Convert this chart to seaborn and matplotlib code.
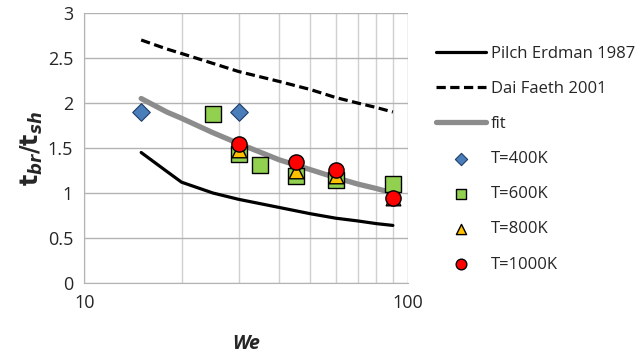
import matplotlib
matplotlib.use('Agg')
import matplotlib.pyplot as plt
import seaborn as sns
import pandas as pd
from matplotlib.ticker import FixedLocator, NullFormatter

# correlation curves
we_curve = [15, 18, 20, 25, 30, 40, 50, 60, 70, 80, 90]
pilch = [1.45, 1.24, 1.12, 1.0, 0.93, 0.84, 0.77, 0.72, 0.69, 0.66, 0.64]
dai = [2.70, 2.60, 2.55, 2.44, 2.35, 2.24, 2.15, 2.06, 2.00, 1.95, 1.90]
fit = [2.05, 1.90, 1.83, 1.67, 1.55, 1.37, 1.26, 1.17, 1.10, 1.05, 1.00]

# measurements
we_400 = [15, 30]
t_400 = [1.9, 1.9]
we_600 = [25, 30, 35, 45, 60, 90]
t_600 = [1.88, 1.43, 1.31, 1.19, 1.14, 1.10]
we_800 = [30, 45, 60, 90]
t_800 = [1.48, 1.25, 1.19, 0.95]
we_1000 = [30, 45, 60, 90]
t_1000 = [1.55, 1.34, 1.26, 0.95]

sns.set_style('white')
plt.rcParams['font.family'] = ['Open Sans', 'DejaVu Sans']

fig = plt.figure(figsize=(6.38, 3.61), dpi=100)
ax = fig.add_axes([0.132, 0.216, 0.507, 0.748])

sns.lineplot(x=we_curve, y=pilch, color='black', lw=2.3, label='Pilch Erdman 1987', ax=ax)
sns.lineplot(x=we_curve, y=dai, color='black', lw=2.3, label='Dai Faeth 2001', ax=ax)
ax.lines[-1].set_dashes([2.9, 1.4])
sns.lineplot(x=we_curve, y=fit, color='#8c8c8c', lw=3.8, label='fit', ax=ax)

sns.scatterplot(x=we_400, y=t_400, marker='D', s=80, color='#4a7ebb', edgecolor='#1f3d66',
                linewidth=0.8, label='T=400K', ax=ax, zorder=3)
sns.scatterplot(x=we_600, y=t_600, marker='s', s=120, color='#92d050', edgecolor='black',
                linewidth=1, label='T=600K', ax=ax, zorder=4)
sns.scatterplot(x=we_800, y=t_800, marker='^', s=110, color='#ffc000', edgecolor='black',
                linewidth=1, label='T=800K', ax=ax, zorder=5)
sns.scatterplot(x=we_1000, y=t_1000, marker='o', s=120, color='#ff0000', edgecolor='black',
                linewidth=1, label='T=1000K', ax=ax, zorder=6)

ax.set_xscale('log')
ax.set_xlim(10, 100)
ax.set_ylim(0, 3)
ax.xaxis.set_major_locator(FixedLocator([10, 100]))
ax.xaxis.set_minor_locator(FixedLocator([20, 30, 40, 50, 60, 70, 80, 90]))
ax.xaxis.set_minor_formatter(NullFormatter())
ax.set_xticklabels(['10', '100'])
ax.set_yticks([0, 0.5, 1, 1.5, 2, 2.5, 3])
ax.set_yticklabels(['0', '0.5', '1', '1.5', '2', '2.5', '3'])
ax.grid(True, which='major', color='#b3b3b3', lw=1)
ax.grid(True, which='minor', axis='x', color='#d0d0d0', lw=1)
for s in ['top', 'right']:
    ax.spines[s].set_visible(False)
for s in ['left', 'bottom']:
    ax.spines[s].set_color('#b3b3b3')
ax.tick_params(axis='both', which='major', length=5, color='#b3b3b3', labelsize=13, pad=3)
ax.tick_params(axis='x', which='minor', length=0)

ax.set_xlabel('We', fontsize=14, fontweight='bold', style='italic', labelpad=16)
ax.set_ylabel(r'$\mathbf{t}_{\mathbfit{br}}\mathbf{/t}_{\mathbfit{sh}}$', fontsize=17, labelpad=2)

ax.legend(loc='upper left', bbox_to_anchor=(1.04, 0.935), frameon=False, fontsize=12,
          handlelength=3.0, handletextpad=0.3, labelspacing=1.15, markerscale=0.7)

fig.savefig('out.png', dpi=100)
